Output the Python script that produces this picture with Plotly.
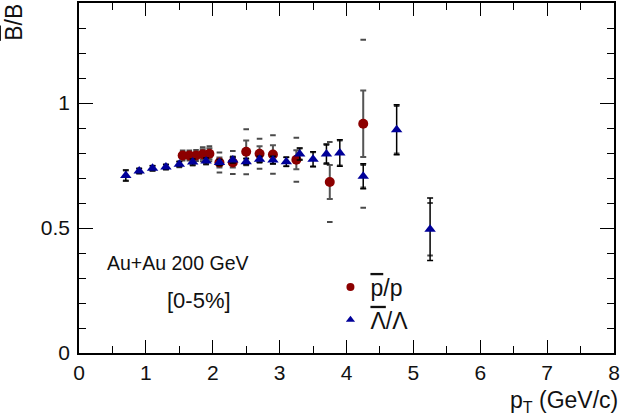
import plotly.graph_objects as go

# anti-proton / proton ratio
pbar_pt = [1.55, 1.65, 1.75, 1.85, 1.95, 2.1, 2.3, 2.5, 2.7, 2.9, 3.25, 3.75, 4.25]
pbar_ratio = [0.790, 0.790, 0.790, 0.795, 0.797, 0.762, 0.762, 0.805, 0.797, 0.794, 0.773, 0.684, 0.917]
pbar_stat = [0.012, 0.012, 0.012, 0.020, 0.022, 0.020, 0.020, 0.045, 0.030, 0.037, 0.038, 0.068, 0.133]
pbar_sys = [0.020, 0.020, 0.022, 0.028, 0.030, 0.040, 0.046, 0.090, 0.060, 0.077, 0.088, 0.160, 0.336]

# anti-lambda / lambda ratio
lam_pt = [0.7, 0.9, 1.1, 1.3, 1.5, 1.7, 1.9, 2.1, 2.3, 2.5, 2.7, 2.9, 3.1, 3.3, 3.5,
          3.7, 3.9, 4.25, 4.75, 5.25]
lam_ratio = [0.710, 0.728, 0.739, 0.744, 0.755, 0.764, 0.768, 0.762, 0.772, 0.765, 0.775,
             0.772, 0.765, 0.796, 0.775, 0.796, 0.800, 0.707, 0.893, 0.495]
lam_stat = [0.022, 0.010, 0.010, 0.010, 0.010, 0.012, 0.012, 0.012, 0.012, 0.012, 0.012,
            0.015, 0.018, 0.024, 0.030, 0.040, 0.053, 0.050, 0.100, 0.125]
lam_sys = [0.020, 0.010, 0.010, 0.010, 0.012, 0.014, 0.014, 0.014, 0.014, 0.014, 0.014,
           0.016, 0.018, 0.022, 0.028, 0.036, 0.050, 0.045, 0.095, 0.105]

x_ticks = [0, 1, 2, 3, 4, 5, 6, 7, 8]
y_ticks = [0, 0.5, 1]

FONT = "Liberation Sans, Arial, sans-serif"
INK = "#111111"
RED = "#8c0000"
BLUE = "#000099"
SYS = "#4a4a4a"


def bar(s):
    """Overlined text (antiparticle notation)."""
    return '<span style="text-decoration:overline">' + s + '</span>'


fig = go.Figure()


def sys_caps(xs, ys, errs, name):
    """Short horizontal dashes marking the systematic band edges."""
    cx, cy = [], []
    for x, y, e in zip(xs, ys, errs):
        cx += [x, x]
        cy += [y + e, y - e]
    return go.Scatter(x=cx, y=cy, mode="markers", showlegend=False, hoverinfo="skip",
                      name=name,
                      marker=dict(symbol="line-ew", size=4, color=SYS,
                                  line=dict(width=2, color=SYS)))


fig.add_trace(sys_caps(pbar_pt, pbar_ratio, pbar_sys, "pbar sys"))
fig.add_trace(sys_caps(lam_pt, lam_ratio, lam_sys, "lambda sys"))

fig.add_trace(go.Scatter(
    x=pbar_pt, y=pbar_ratio, mode="markers", showlegend=False,
    marker=dict(symbol="circle", size=10, color=RED),
    error_y=dict(type="data", array=pbar_stat, color="#555555", thickness=2, width=3),
))
fig.add_trace(go.Scatter(
    x=lam_pt, y=lam_ratio, mode="markers", showlegend=False,
    marker=dict(symbol="triangle-up", size=10, color=BLUE),
    error_y=dict(type="data", array=lam_stat, color="black", thickness=1.5, width=3),
))

# legend entries
fig.add_trace(go.Scatter(x=[None], y=[None], mode="markers", name=bar("p") + "/p",
                         legendgroup="a",
                         marker=dict(symbol="circle", size=8, color=RED)))
fig.add_trace(go.Scatter(x=[None], y=[None], mode="markers",
                         name=bar("\u039b") + "/\u039b",
                         legendgroup="b",
                         marker=dict(symbol="triangle-up", size=8, color=BLUE)))

axis_common = dict(
    showgrid=False, zeroline=False, showline=True, linecolor="black", linewidth=1.5,
    mirror="ticks", ticks="inside", tickcolor="black", tickwidth=1.2,
    tickfont=dict(family=FONT, size=21, color=INK),
)

fig.update_xaxes(range=[0, 8], tickvals=x_ticks, ticklen=13,
                 minor=dict(ticks="inside", dtick=0.5, ticklen=7, tickcolor="black"),
                 **axis_common)
fig.update_yaxes(range=[0, 1.4], tickvals=y_ticks, ticklen=14, ticklabelstandoff=3,
                 minor=dict(ticks="inside", dtick=0.1, ticklen=7, tickcolor="black"),
                 **axis_common)

fig.add_annotation(text="p<sub>T</sub> (GeV/c)", xref="paper", yref="paper",
                   x=1.012, y=-0.09, xanchor="right", yanchor="top", showarrow=False,
                   font=dict(family=FONT, size=23, color=INK))
fig.add_annotation(text=bar("B") + "/B", xref="paper", yref="paper", x=-0.15, y=1.004,
                   xanchor="left", yanchor="top", textangle=-90, showarrow=False,
                   font=dict(family=FONT, size=23, color=INK))
fig.add_annotation(text="Au+Au 200 GeV", xref="x", yref="y", x=1.48, y=0.36,
                   showarrow=False, font=dict(family=FONT, size=19.5, color=INK))
fig.add_annotation(text="[0-5%]", xref="x", yref="y", x=1.8, y=0.21,
                   showarrow=False, font=dict(family=FONT, size=22, color=INK))

fig.update_layout(
    width=622, height=416,
    margin=dict(l=79, r=8, t=1, b=63),
    paper_bgcolor="white", plot_bgcolor="white",
    showlegend=True,
    legend=dict(x=0.47, y=0.25, xanchor="left", yanchor="top",
                bgcolor="rgba(0,0,0,0)", traceorder="grouped", tracegroupgap=0,
                font=dict(family=FONT, size=23, color=INK),
                itemwidth=30),
)

fig.write_html("out.html")
